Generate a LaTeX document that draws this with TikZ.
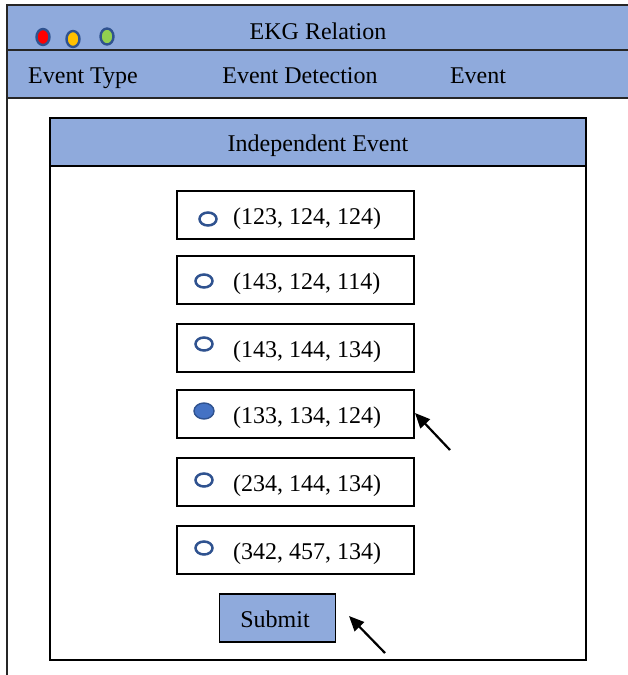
\documentclass[tikz,border=0pt]{standalone}
\usepackage{fontspec}
\setmainfont{Liberation Serif}
\usetikzlibrary{arrows.meta,shapes.geometric}
\definecolor{barblue}{HTML}{8FAADC}
\definecolor{ringblue}{HTML}{2F528F}
\definecolor{pickblue}{HTML}{4472C4}
\definecolor{btnred}{HTML}{FF0000}
\definecolor{btnyellow}{HTML}{FFC000}
\definecolor{btngreen}{HTML}{92D050}
\begin{document}
\begin{tikzpicture}[x=1pt,y=-1pt,
  bar/.style={draw=black!85, line width=1.8pt, fill=barblue},
  txt/.style={font=\fontsize{24}{28}\selectfont, inner sep=0pt, anchor=base},
  optbox/.style={draw=black, line width=1.6pt, minimum width=237pt, minimum height=48pt, inner sep=0pt},
  winbtn/.style={ellipse, draw=ringblue, line width=2.4pt, minimum width=13pt, minimum height=16pt, inner sep=0pt},
  radio/.style={ellipse, draw=ringblue, line width=2.5pt, minimum width=17pt, minimum height=13pt, inner sep=0pt},
  chosen/.style={ellipse, draw=ringblue, line width=1.4pt, fill=pickblue, minimum width=20pt, minimum height=16pt, inner sep=0pt},
  pointer/.style={-{Triangle[length=15pt,width=13pt]}, line width=2.2pt}]
\useasboundingbox (0,0) rectangle (628,675);
\clip (0,0) rectangle (628,675);

% application window: title bar, menu bar and left frame edge
\path[bar] (7,5) rectangle (660,50);
\path[bar] (7,50) rectangle (660,98);
\draw[black!85, line width=1.8pt] (7,98) -- (7,690);

% window buttons
\node[winbtn, fill=btnred]    (wclose) at (43,37)  {};
\node[winbtn, fill=btnyellow] (wmin)   at (73,39)  {};
\node[winbtn, fill=btngreen]  (wmax)   at (107,36.5) {};

\node[txt] (title) at (318,39) {EKG Relation};
\node[txt] (m1) at (83,83)  {Event Type};
\node[txt] (m2) at (300,83) {Event Detection};
\node[txt] (m3) at (478,83) {Event};

% dialog panel
\draw[black, line width=1.8pt] (50,118) rectangle (586,660);
\path[bar, draw=black] (50,118) rectangle (586,166);
\node[txt] (head) at (318,151) {Independent Event};

% options
\node[optbox] (o1) at (295.5,215) {};
\node[optbox] (o2) at (295.5,280) {};
\node[optbox] (o3) at (295.5,348) {};
\node[optbox] (o4) at (295.5,414) {};
\node[optbox] (o5) at (295.5,482) {};
\node[optbox] (o6) at (295.5,550) {};

\node[radio]  (r1) at (208,219) {};
\node[radio]  (r2) at (204,281) {};
\node[radio]  (r3) at (204,344) {};
\node[chosen] (r4) at (204,411) {};
\node[radio]  (r5) at (204,480) {};
\node[radio]  (r6) at (204,548) {};

\node[txt, anchor=base west] (t1) at (233,224) {(123, 124, 124)};
\node[txt, anchor=base west] (t2) at (233,289) {(143, 124, 114)};
\node[txt, anchor=base west] (t3) at (233,357) {(143, 144, 134)};
\node[txt, anchor=base west] (t4) at (233,423) {(133, 134, 124)};
\node[txt, anchor=base west] (t5) at (233,491) {(234, 144, 134)};
\node[txt, anchor=base west] (t6) at (233,559) {(342, 457, 134)};

% submit button
\node[optbox, fill=barblue, minimum width=116pt, line width=1.8pt] (submit) at (277.5,618) {};
\node[txt] (sublbl) at (275,627) {Submit};

% pointers
\coordinate (p1tail) at (450,450);
\coordinate (p1tip)  at (415,413);
\coordinate (p2tail) at (385,653);
\coordinate (p2tip)  at (349,616);
\draw[pointer] (p1tail) -- (p1tip);
\draw[pointer] (p2tail) -- (p2tip);
\end{tikzpicture}
\end{document}
